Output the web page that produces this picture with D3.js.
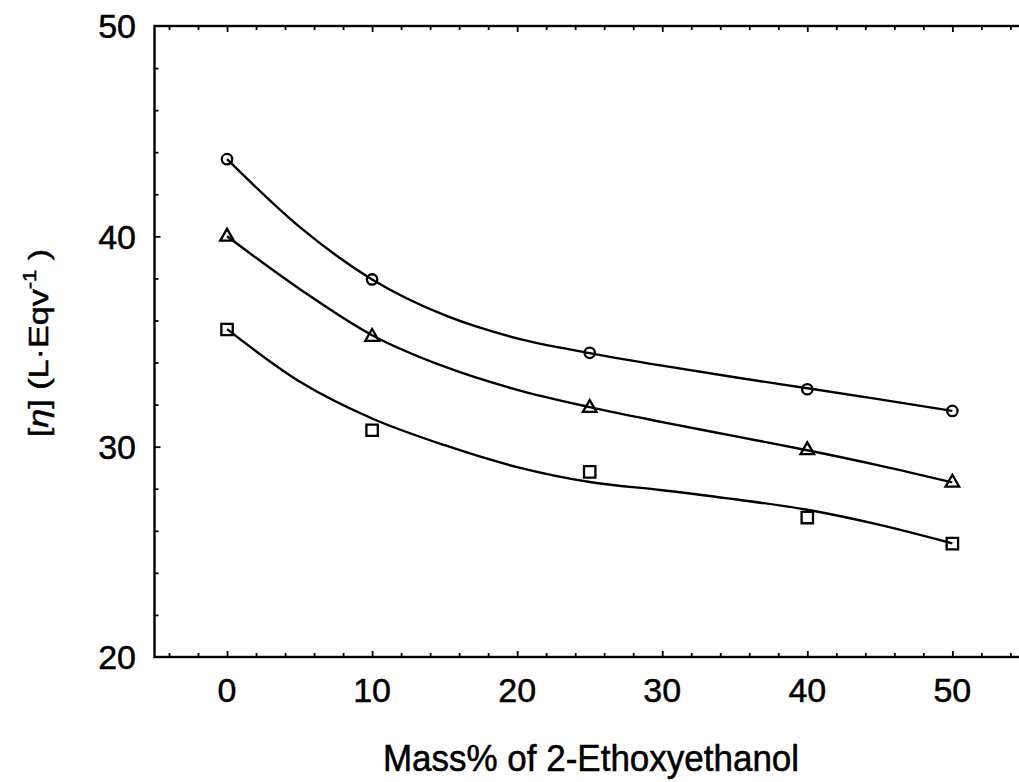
<!DOCTYPE html>
<html>
<head>
<meta charset="utf-8">
<script src="https://cdn.jsdelivr.net/npm/d3@7"></script>
<style>
  html, body { margin: 0; padding: 0; background: #fff; }
  svg { display: block; }
  text { font-family: "Liberation Sans", Arial, sans-serif; fill: #000; stroke: #000; stroke-width: 0.5px; }
</style>
</head>
<body>
<svg id="chart" width="1019" height="782"></svg>
<script>
// ---- data ----
const massPct = [0, 10, 25, 40, 50];
const circleVals = [43.67, 37.95, 34.46, 32.73, 31.70];
const triangleVals = [39.98, 35.22, 31.84, 29.83, 28.29];
const squareVals = [35.57, 30.78, 28.80, 26.63, 25.39];

// fitted curves
const fitX = [0, 5, 10, 15, 20, 25, 30, 35, 40, 45, 50];
const circleFit = [43.67, 40.45, 37.95, 36.25, 35.15, 34.45, 33.85, 33.30, 32.78, 32.25, 31.70];
const triangleFit = [40.0, 37.5, 35.3, 33.8, 32.7, 31.88, 31.17, 30.50, 29.83, 29.10, 28.30];
const squareFit = [35.59, 33.1, 31.34, 30.07, 29.03, 28.32, 27.93, 27.50, 27.0, 26.28, 25.40];

const xTicks = [0, 10, 20, 30, 40, 50];
const yTicks = [20, 30, 40, 50];
const xTitle = "Mass% of 2-Ethoxyethanol";

// ---- layout ----
const svg = d3.select("#chart");
const pLeft = 154.5, pRight = 1024.9, pTop = 26, pBottom = 657;
const x = d3.scaleLinear().domain([-5, 55]).range([pLeft, pRight]);
const y = d3.scaleLinear().domain([20, 50]).range([pBottom, pTop]);

svg.append("rect").attr("width", 1019).attr("height", 782).attr("fill", "#fff").attr("stroke", "none");

const g = svg.append("g");

// frame
g.append("rect")
  .attr("x", pLeft).attr("y", pTop)
  .attr("width", pRight - pLeft).attr("height", pBottom - pTop)
  .attr("fill", "none").attr("stroke", "#000").attr("stroke-width", 2.4);

const minorX = d3.range(-4, 55, 2);
const minorY = d3.range(22, 50, 2);

// bottom axis (ticks inward)
const xAxisB = d3.axisBottom(x).tickValues(minorX).tickSize(-4).tickFormat("");
g.append("g").attr("transform", `translate(0,${pBottom})`).call(xAxisB)
  .call(s => s.select(".domain").remove())
  .call(s => s.selectAll("line").attr("stroke", "#000").attr("stroke-width", 1.8)
    .attr("y2", d => xTicks.includes(d) ? -6 : -4));
// top axis
const xAxisT = d3.axisTop(x).tickValues(minorX).tickSize(-4).tickFormat("");
g.append("g").attr("transform", `translate(0,${pTop})`).call(xAxisT)
  .call(s => s.select(".domain").remove())
  .call(s => s.selectAll("line").attr("stroke", "#000").attr("stroke-width", 1.8)
    .attr("y2", d => xTicks.includes(d) ? 6 : 4));
// left axis
const yAxisL = d3.axisLeft(y).tickValues(minorY).tickSize(-4).tickFormat("");
g.append("g").attr("transform", `translate(${pLeft},0)`).call(yAxisL)
  .call(s => s.select(".domain").remove())
  .call(s => s.selectAll("line").attr("stroke", "#000").attr("stroke-width", 1.8)
    .attr("x2", d => yTicks.includes(d) ? 6 : 4));

// tick labels
g.append("g").selectAll("text").data(xTicks).join("text")
  .attr("x", d => x(d)).attr("y", 702)
  .attr("text-anchor", "middle")
  .attr("font-size", 34)
  .text(d => d);

g.append("g").selectAll("text").data(yTicks).join("text")
  .attr("x", 136).attr("y", d => y(d))
  .attr("dy", "0.36em")
  .attr("text-anchor", "end")
  .attr("font-size", 34)
  .text(d => d);

// axis titles
g.append("text")
  .attr("transform", `translate(591,771) scale(1,1.07)`)
  .attr("text-anchor", "middle")
  .attr("font-size", 35)
  .text(xTitle);

const yl = g.append("text")
  .attr("transform", `translate(48,343) rotate(-90) scale(1.22,1)`)
  .attr("text-anchor", "middle")
  .attr("font-size", 28);
yl.append("tspan").text("[");
yl.append("tspan").attr("font-style", "italic").text("η");
yl.append("tspan").text("] (L·Eqv");
yl.append("tspan").attr("font-size", 18).attr("dy", -12).text("-1");
yl.append("tspan").attr("dy", 12).text(" )");

// fitted curves
const line = d3.line().x(d => x(d[0])).y(d => y(d[1])).curve(d3.curveMonotoneX);
[circleFit, triangleFit, squareFit].forEach(vals => {
  g.append("path")
    .attr("d", line(fitX.map((v, i) => [v, vals[i]])))
    .attr("fill", "none").attr("stroke", "#000").attr("stroke-width", 2.4);
});

// markers
const series = [
  { vals: circleVals, sym: d3.symbolCircle, size: 85 },
  { vals: triangleVals, sym: d3.symbolTriangle, size: 80 },
  { vals: squareVals, sym: d3.symbolSquare, size: 130 }
];
series.forEach(s => {
  g.append("g").selectAll("path").data(massPct).join("path")
    .attr("transform", (d, i) => `translate(${x(d)},${y(s.vals[i])})`)
    .attr("d", d3.symbol().type(s.sym).size(s.size))
    .attr("fill", "none").attr("stroke", "#000").attr("stroke-width", 2.3);
});
</script>
</body>
</html>
